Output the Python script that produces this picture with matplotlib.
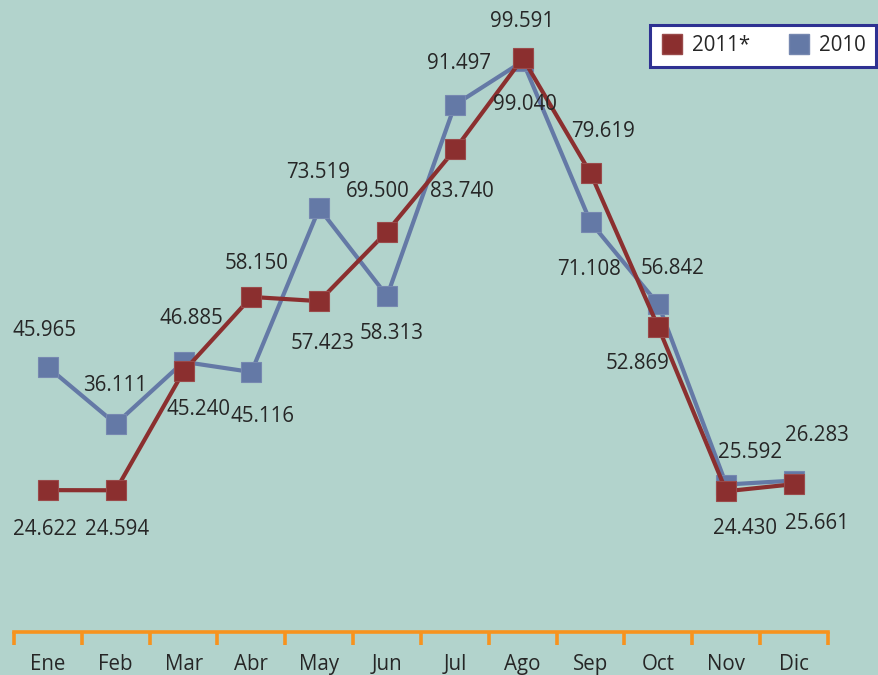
import matplotlib.pyplot as plt
from matplotlib.lines import Line2D
import numpy as np

plt.rcParams['font.family'] = ['Open Sans', 'DejaVu Sans']

# Datos mensuales
meses = ['Ene', 'Feb', 'Mar', 'Abr', 'May', 'Jun',
         'Jul', 'Ago', 'Sep', 'Oct', 'Nov', 'Dic']
serie_2011 = [24.622, 24.594, 45.240, 58.150, 57.423, 69.500,
              83.740, 99.591, 79.619, 52.869, 24.430, 25.661]
serie_2010 = [45.965, 36.111, 46.885, 45.116, 73.519, 58.313,
              91.497, 99.040, 71.108, 56.842, 25.592, 26.283]

# desplazamiento de cada etiqueta (pixeles)
off_2011 = [(-3, -39), (1, -39), (15, -38), (5, 33), (3, -42), (-9, 40),
            (7, -42), (-1, 37), (12, 42), (-21, -36), (19, -37), (23, -39)]
off_2010 = [(-3, 37), (-1, 38), (8, 43), (11, -44), (-1, 36), (5, -37),
            (4, 41), (2, -43), (-2, -47), (14, 36), (24, 32), (23, 45)]

rojo = '#8b2f2f'
azul = '#6479a6'
fondo = '#b2d3cc'
naranja = '#f7931e'
texto = '#262626'
fs = 14.8

fig = plt.figure(figsize=(8.79, 6.75), dpi=100)
fig.patch.set_facecolor(fondo)
ax = fig.add_axes([14/879, 43/675, 814/879, 632/675])
ax.set_facecolor(fondo)

x = np.arange(len(meses))
ax.plot(x, serie_2010, color=azul, lw=3, marker='s', ms=14.5,
        mfc=azul, mec='#7688b0', mew=0.8, zorder=3)
ax.plot(x, serie_2011, color=rojo, lw=3, marker='s', ms=14.5,
        mfc=rojo, mec='#9a4a4a', mew=0.8, zorder=4)

def etiquetas(valores, offsets):
    for xi, v, (dx, dy) in zip(x, valores, offsets):
        ax.annotate(f'{v:.3f}', xy=(xi, v), xytext=(dx, dy),
                    textcoords='offset pixels', ha='center', va='center',
                    fontsize=fs, color=texto, zorder=5)

etiquetas(serie_2011, off_2011)
etiquetas(serie_2010, off_2010)

ax.set_xlim(-0.5, 11.5)
ax.set_ylim(0, 632 / 5.762)

for s in ['top', 'left', 'right']:
    ax.spines[s].set_visible(False)
ax.spines['bottom'].set_color(naranja)
ax.spines['bottom'].set_linewidth(2.6)
ax.spines['bottom'].set_capstyle('projecting')

ax.set_yticks([])
ax.set_xticks(x)
ax.set_xticklabels(meses, fontsize=fs, color=texto)
ax.tick_params(axis='x', which='major', length=0, pad=16)
ax.set_xticks(np.arange(-0.5, 12, 1), minor=True)
ax.tick_params(axis='x', which='minor', length=9, width=2.6,
               color=naranja, direction='out')

handles = [Line2D([], [], ls='none', marker='s', ms=14.5, mfc=rojo, mec='#9a4a4a'),
           Line2D([], [], ls='none', marker='s', ms=14.5, mfc=azul, mec='#7688b0')]
leg = fig.legend(handles, ['2011*', '2010'], ncol=2, loc='upper right',
                 bbox_to_anchor=(876/879, 1 - 25/675), bbox_transform=fig.transFigure,
                 borderaxespad=0, fancybox=False, fontsize=fs,
                 handletextpad=0.35, columnspacing=1.8, handlelength=1.2,
                 borderpad=0.5, framealpha=1)
leg.get_frame().set_edgecolor('#2e3192')
leg.get_frame().set_linewidth(2.2)
leg.get_frame().set_facecolor('white')
for t in leg.get_texts():
    t.set_color(texto)

fig.savefig('out.png', dpi=100, facecolor=fondo)
